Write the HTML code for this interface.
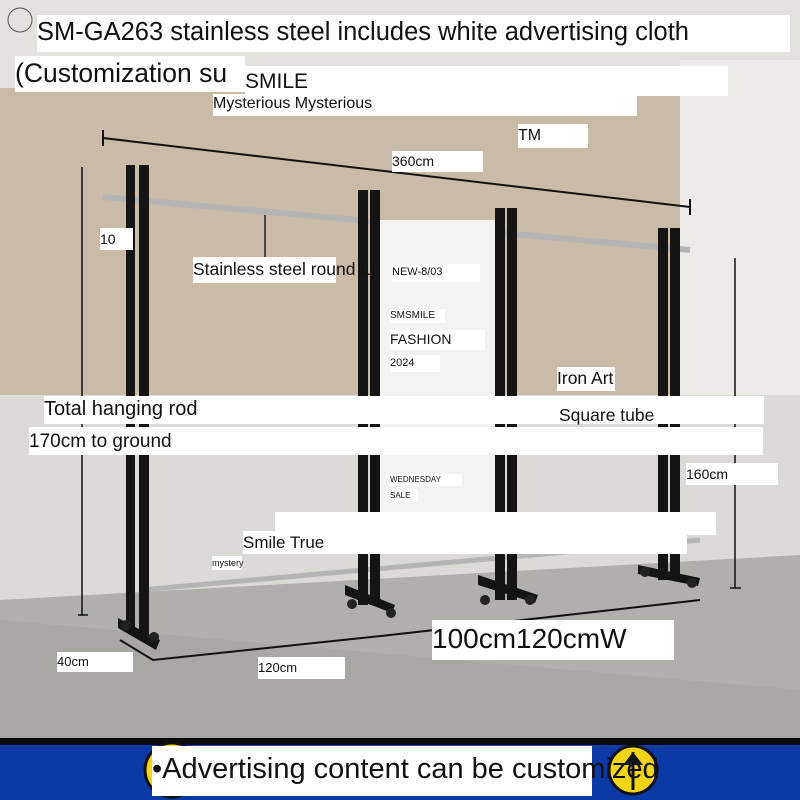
<!DOCTYPE html>
<html><head><meta charset="utf-8"><style>
body{margin:0;width:800px;height:800px;overflow:hidden;position:relative;font-family:"Liberation Sans","Noto Sans CJK SC",sans-serif;background:#e6e4e0}
.b{position:absolute;background:#fff;color:#111;white-space:nowrap;overflow:visible;line-height:1}
</style></head><body>
<svg width="800" height="800" style="position:absolute;left:0;top:0">
<rect x="0" y="0" width="800" height="800" fill="#e4e2de"/>
<polygon points="0,88 680,88 680,395 0,395" fill="#c8bca9"/>
<rect x="680" y="60" width="120" height="540" fill="#ecebe8"/>
<rect x="0" y="395" width="800" height="205" fill="#dcdad6"/>
<polygon points="0,600 800,555 800,740 0,740" fill="#b0afab"/>
<polygon points="0,620 0,740 800,740 800,690" fill="#a8a7a3"/>
<line x1="103" y1="138" x2="690" y2="207" stroke="#111" stroke-width="2"/>
<line x1="103" y1="130" x2="103" y2="146" stroke="#111" stroke-width="2"/>
<line x1="690" y1="199" x2="690" y2="215" stroke="#111" stroke-width="2"/>
<line x1="82" y1="167" x2="82" y2="615" stroke="#111" stroke-width="1.5"/>
<line x1="78" y1="615" x2="88" y2="615" stroke="#111" stroke-width="1.5"/>
<line x1="735" y1="258" x2="735" y2="588" stroke="#111" stroke-width="1.5"/>
<line x1="730" y1="588" x2="741" y2="588" stroke="#111" stroke-width="1.5"/>
<polyline points="120,640 153,660 390,635 700,600" fill="none" stroke="#111" stroke-width="2"/>
<line x1="103" y1="197" x2="690" y2="250" stroke="#b4b4b4" stroke-width="6"/>
<line x1="140" y1="590" x2="700" y2="540" stroke="#b4b4b4" stroke-width="5"/>
<rect x="380" y="220" width="118" height="300" fill="#f3f3f1"/>
<line x1="265" y1="215" x2="265" y2="258" stroke="#222" stroke-width="1.5"/>
<g fill="#141414">
<rect x="126" y="165" width="9" height="465"/><rect x="139" y="165" width="10" height="470"/>
<rect x="358" y="190" width="10" height="415"/><rect x="370" y="190" width="10" height="415"/>
<rect x="495" y="208" width="10" height="392"/><rect x="507" y="208" width="10" height="392"/>
<rect x="658" y="228" width="10" height="352"/><rect x="670" y="228" width="10" height="352"/>
<polygon points="118,618 160,640 156,650 118,628"/>
<polygon points="345,585 395,605 392,613 345,595"/>
<polygon points="478,575 538,595 535,603 478,585"/>
<polygon points="638,565 700,578 698,586 638,574"/>
</g>
<g fill="#222"><circle cx="126" cy="625" r="5"/><circle cx="154" cy="637" r="5"/><circle cx="352" cy="604" r="5"/><circle cx="391" cy="613" r="5"/><circle cx="485" cy="600" r="5"/><circle cx="530" cy="600" r="5"/><circle cx="645" cy="572" r="5"/><circle cx="692" cy="583" r="5"/></g>
<rect x="0" y="738" width="800" height="7" fill="#0a0a0a"/>
<rect x="0" y="745" width="800" height="55" fill="#0b3aa6"/>
<circle cx="172" cy="770" r="27" fill="#f2d516" stroke="#111" stroke-width="3"/>
<circle cx="633" cy="770" r="24" fill="#f2d516" stroke="#111" stroke-width="3"/>
<line x1="633" y1="752" x2="633" y2="790" stroke="#111" stroke-width="3"/>
<polygon points="623,765 633,752 643,765" fill="#111"/>
<circle cx="20" cy="20" r="12" fill="none" stroke="#555" stroke-width="1"/>
</svg>
<div class="b" style="left:37px;top:15px;width:753px;height:37px;font-size:25.5px;padding-top:5px;box-sizing:border-box">SM-GA263 stainless steel includes white advertising cloth</div>
<div class="b" style="left:15px;top:56px;width:230px;height:36px;font-size:26.5px;padding-top:4px;box-sizing:border-box">(Customization su</div>
<div class="b" style="left:245px;top:66px;width:483px;height:30px;font-size:21px;padding-top:5px;box-sizing:border-box">SMILE</div>
<div class="b" style="left:213px;top:94px;width:424px;height:22px;font-size:16px;padding-top:2px;box-sizing:border-box">Mysterious Mysterious</div>
<div class="b" style="left:518px;top:124px;width:70px;height:24px;font-size:16px;padding-top:4px;box-sizing:border-box">TM</div>
<div class="b" style="left:392px;top:151px;width:91px;height:21px;font-size:14px;padding-top:3px;box-sizing:border-box">360cm</div>
<div class="b" style="left:100px;top:228px;width:33px;height:22px;font-size:14px;padding-top:4px;box-sizing:border-box">10</div>
<div class="b" style="left:193px;top:257px;width:143px;height:26px;font-size:17.5px;padding-top:4px;box-sizing:border-box">Stainless steel round tu</div>
<div class="b" style="left:392px;top:264px;width:88px;height:18px;font-size:11px;padding-top:3px;box-sizing:border-box">NEW-8/03</div>
<div class="b" style="left:390px;top:309px;width:55px;height:14px;font-size:10px;padding-top:2px;box-sizing:border-box">SMSMILE</div>
<div class="b" style="left:390px;top:330px;width:95px;height:20px;font-size:14px;padding-top:2px;box-sizing:border-box">FASHION</div>
<div class="b" style="left:390px;top:355px;width:50px;height:17px;font-size:11px;padding-top:3px;box-sizing:border-box">2024</div>
<div class="b" style="left:557px;top:367px;width:58px;height:24px;font-size:17.5px;padding-top:3px;box-sizing:border-box">Iron Art</div>
<div class="b" style="left:44px;top:396px;width:720px;height:28px;font-size:20px;padding-top:3px;box-sizing:border-box">Total hanging rod<span style="position:absolute;left:515px;top:11px;font-size:17.5px">Square tube</span></div>
<div class="b" style="left:29px;top:427px;width:734px;height:28px;font-size:19px;padding-top:5px;box-sizing:border-box">170cm to ground</div>
<div class="b" style="left:686px;top:463px;width:92px;height:22px;font-size:14px;padding-top:4px;box-sizing:border-box">160cm</div>
<div class="b" style="left:390px;top:474px;width:72px;height:12px;font-size:8px;padding-top:2px;box-sizing:border-box">WEDNESDAY</div>
<div class="b" style="left:390px;top:489px;width:28px;height:13px;font-size:8px;padding-top:3px;box-sizing:border-box">SALE</div>
<div class="b" style="left:275px;top:512px;width:441px;height:23px"></div>
<div class="b" style="left:243px;top:531px;width:444px;height:23px;font-size:17px;padding-top:3px;box-sizing:border-box">Smile True</div>
<div class="b" style="left:212px;top:556px;width:30px;height:14px;font-size:9px;padding-top:3px;box-sizing:border-box">mystery</div>
<div class="b" style="left:57px;top:652px;width:76px;height:20px;font-size:13px;padding-top:3px;box-sizing:border-box">40cm</div>
<div class="b" style="left:258px;top:657px;width:87px;height:22px;font-size:13px;padding-top:4px;box-sizing:border-box">120cm</div>
<div class="b" style="left:432px;top:620px;width:242px;height:40px;font-size:28px;padding-top:5px;box-sizing:border-box">100cm120cmW</div>
<div class="b" style="left:152px;top:746px;width:440px;height:50px;font-size:29px;padding-top:9px;box-sizing:border-box">•Advertising content can be customized</div>
</body></html>
